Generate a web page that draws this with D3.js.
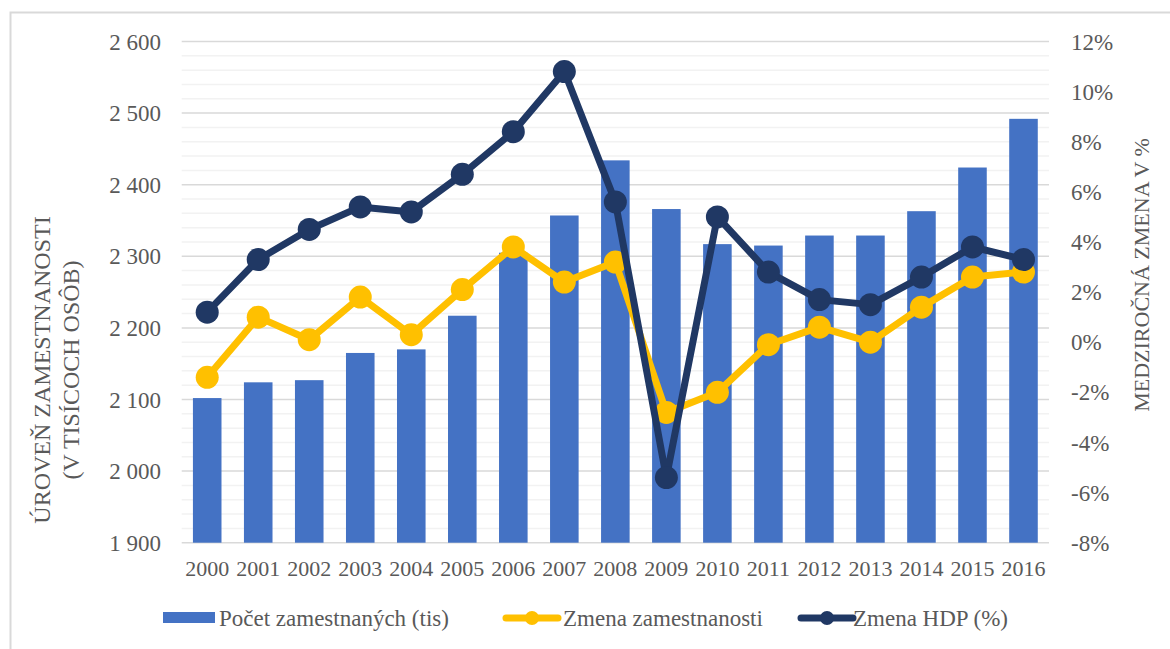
<!DOCTYPE html>
<html>
<head>
<meta charset="utf-8">
<title>Zamestnanosť a HDP</title>
<script src="https://d3js.org/d3.v7.min.js"></script>
<style>
body { margin: 0; background: #fff; }
svg text { font-family: "Liberation Serif", "Times New Roman", serif; fill: #595959; }
</style>
</head>
<body>
<svg width="1170" height="649"></svg>
<script>
var years = ["2000","2001","2002","2003","2004","2005","2006","2007","2008","2009","2010","2011","2012","2013","2014","2015","2016"];
var pocet = [2102, 2124, 2127, 2165, 2170, 2217, 2305, 2357, 2434, 2366, 2317, 2315, 2329, 2329, 2363, 2424, 2492];
var zmenaZam = [-1.4, 1.0, 0.1, 1.8, 0.3, 2.1, 3.8, 2.4, 3.2, -2.8, -2.0, -0.1, 0.6, 0.0, 1.4, 2.6, 2.8];
var zmenaHdp = [1.2, 3.3, 4.5, 5.4, 5.2, 6.7, 8.4, 10.8, 5.6, -5.4, 5.0, 2.8, 1.7, 1.5, 2.6, 3.8, 3.3];
var leftTicks = [1900, 2000, 2100, 2200, 2300, 2400, 2500, 2600];
var rightTicks = [-8, -6, -4, -2, 0, 2, 4, 6, 8, 10, 12];
var legendNames = ["Počet zamestnaných (tis)", "Zmena zamestnanosti", "Zmena HDP (%)"];

var svg = d3.select("svg");
var plot = {left: 181.7, right: 1049, top: 41.5, bottom: 542.7};

// frame around the figure
svg.append("rect")
    .attr("x", 10.5).attr("y", 12.5)
    .attr("width", 1170).attr("height", 700)
    .attr("fill", "none").attr("stroke", "#d9d9d9").attr("stroke-width", 2);

var x = d3.scaleBand().domain(years)
    .range([plot.left, plot.right])
    .paddingInner(0.44).paddingOuter(0.22);
var yL = d3.scaleLinear().domain([1900, 2600]).range([plot.bottom, plot.top]);
var yR = d3.scaleLinear().domain([-8, 12]).range([plot.bottom, plot.top]);

var fmt = function(d) { return d3.format(",")(d).replace(",", "\u00a0"); };

// minor gridlines every 20
var g = svg.append("g");
g.selectAll("line.minor").data(d3.range(1920, 2600, 20).filter(function(v) { return v % 100 !== 0; }))
  .enter().append("line")
    .attr("x1", plot.left).attr("x2", plot.right)
    .attr("y1", function(d) { return yL(d); }).attr("y2", function(d) { return yL(d); })
    .attr("stroke", "#f2f2f2").attr("stroke-width", 1.5);
g.selectAll("line.major").data(leftTicks)
  .enter().append("line")
    .attr("x1", plot.left).attr("x2", plot.right)
    .attr("y1", function(d) { return yL(d); }).attr("y2", function(d) { return yL(d); })
    .attr("stroke", "#d9d9d9").attr("stroke-width", 1.5);

// bars
svg.append("g").selectAll("rect").data(pocet).enter().append("rect")
    .attr("x", function(d, i) { return x(years[i]); })
    .attr("width", x.bandwidth())
    .attr("y", function(d) { return yL(d); })
    .attr("height", function(d) { return yL(1900) - yL(d); })
    .attr("fill", "#4472c4");

// axis labels
svg.append("g").selectAll("text").data(leftTicks).enter().append("text")
    .attr("x", 161).attr("y", function(d) { return yL(d); })
    .attr("dy", "0.35em").attr("text-anchor", "end")
    .style("font-size", "23px")
    .text(fmt);

svg.append("g").selectAll("text").data(rightTicks).enter().append("text")
    .attr("x", 1071).attr("y", function(d) { return yR(d); })
    .attr("dy", "0.35em")
    .style("font-size", "23px")
    .text(function(d) { return d + "%"; });

svg.append("g").selectAll("text").data(years).enter().append("text")
    .attr("x", function(d) { return x(d) + x.bandwidth() / 2; })
    .attr("y", 568).attr("dy", "0.35em").attr("text-anchor", "middle")
    .style("font-size", "22px")
    .text(function(d) { return d; });

// axis titles
var lt = svg.append("text")
    .attr("transform", "translate(42,370) rotate(-90)")
    .attr("text-anchor", "middle")
    .style("font-size", "24px");
lt.append("tspan").attr("x", 0).attr("dy", "0.35em").text("ÚROVEŇ ZAMESTNANOSTI");
lt.append("tspan").attr("x", 0).attr("dy", "1.2em").text("(V TISÍCOCH OSÔB)");

svg.append("text")
    .attr("transform", "translate(1141,275) rotate(-90)")
    .attr("text-anchor", "middle").attr("dy", "0.35em")
    .style("font-size", "22px")
    .text("MEDZIROČNÁ ZMENA V %");

// lines
function drawSeries(vals, color) {
  var line = d3.line()
      .x(function(d, i) { return x(years[i]) + x.bandwidth() / 2; })
      .y(function(d) { return yR(d); });
  var s = svg.append("g");
  s.append("path").datum(vals)
      .attr("d", line)
      .attr("fill", "none").attr("stroke", color)
      .attr("stroke-width", 7).attr("stroke-linejoin", "round");
  s.selectAll("circle").data(vals).enter().append("circle")
      .attr("cx", function(d, i) { return x(years[i]) + x.bandwidth() / 2; })
      .attr("cy", function(d) { return yR(d); })
      .attr("r", 11.5)
      .attr("fill", color);
}
drawSeries(zmenaZam, "#ffc000");
drawSeries(zmenaHdp, "#203864");

// legend
var ly = 618;
var leg = svg.append("g");
leg.append("rect").attr("x", 163).attr("y", ly - 6).attr("width", 52).attr("height", 11).attr("fill", "#4472c4");
leg.append("text").attr("x", 219).attr("y", ly).attr("dy", "0.35em").style("font-size", "23px").text(legendNames[0]);

[[503, "#ffc000", 563, legendNames[1]], [798, "#203864", 853, legendNames[2]]].forEach(function(it) {
  leg.append("line").attr("x1", it[0] + 3).attr("x2", it[0] + 55).attr("y1", ly).attr("y2", ly)
      .attr("stroke", it[1]).attr("stroke-width", 7).attr("stroke-linecap", "round");
  leg.append("circle").attr("cx", it[0] + 29).attr("cy", ly).attr("r", 7).attr("fill", it[1]);
  leg.append("text").attr("x", it[2]).attr("y", ly).attr("dy", "0.35em").style("font-size", "23px").text(it[3]);
});
</script>
</body>
</html>
